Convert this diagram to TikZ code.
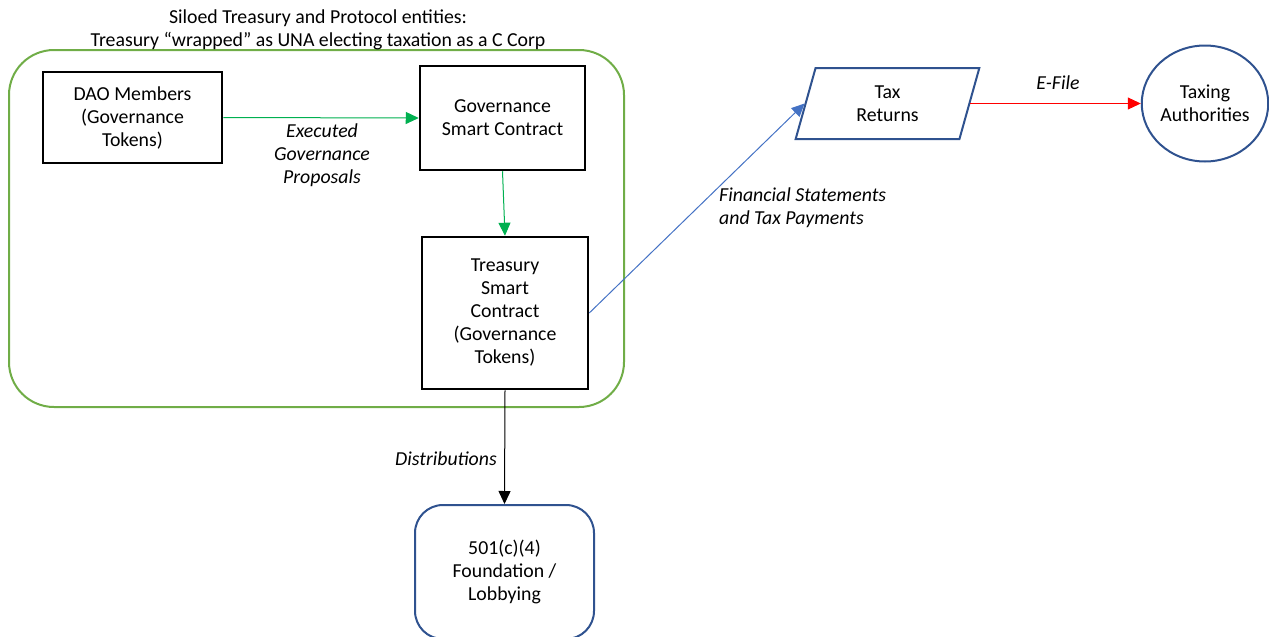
\documentclass[tikz,border=0pt]{standalone}
\usepackage{fontspec}
\setmainfont{Carlito}
\usetikzlibrary{arrows.meta,shapes.geometric}
\definecolor{silogreen}{RGB}{112,173,71}
\definecolor{arrowgreen}{RGB}{0,176,80}
\definecolor{darkblue}{RGB}{47,82,143}
\definecolor{midblue}{RGB}{68,114,196}
\definecolor{efred}{RGB}{255,0,0}
\tikzset{
  txt/.style={font=\fontsize{19.8}{23}\selectfont, align=center},
  lbl/.style={font=\fontsize{19.8}{23}\selectfont\itshape, inner sep=0pt},
  blackbox/.style={txt, draw=black, line width=2.5pt, rectangle, inner sep=0pt},
  bluebox/.style={txt, draw=darkblue, line width=2pt, rounded corners=28pt, inner sep=0pt},
  conn/.style={line width=1pt, -{Triangle[length=13pt,width=12pt]}},
}
\begin{document}
\begin{tikzpicture}[x=1pt,y=-1pt]
\useasboundingbox (0,0) rectangle (1269,637);
% container
\node[draw=silogreen, line width=2pt, rounded corners=45pt, minimum width=615pt, minimum height=357pt] (silo) at (316.5,228.5) {};
\node[txt, inner sep=0pt] (title) at (318,29.5) {Siloed Treasury and Protocol entities:\\Treasury “wrapped” as UNA electing taxation as a C Corp};
% boxes
\node[blackbox, minimum width=179pt, minimum height=91pt] (dao) at (132.5,117.5) {DAO Members\\(Governance\\Tokens)};
\node[blackbox, minimum width=165pt, minimum height=104pt] (gov) at (502.5,118) {Governance\\Smart Contract};
\node[blackbox, minimum width=166pt, minimum height=152pt] (treas) at (505,313) {Treasury\\Smart\\Contract\\(Governance\\Tokens)};
\node[bluebox, minimum width=179pt, minimum height=134pt] (found) at (504.5,572) {501(c)(4)\\Foundation /\\Lobbying};
\node[txt, draw=darkblue, line width=2pt, trapezium, trapezium stretches=true, trapezium left angle=76.5, trapezium right angle=103.5, minimum width=185pt, minimum height=71pt, inner sep=0pt] (tax) at (887.5,103.5) {Tax\\Returns};
\node[txt, draw=darkblue, line width=2pt, ellipse, minimum width=124pt, minimum height=116pt, inner sep=0pt] (auth) at (1205,103.5) {Taxing\\Authorities};
% connectors
\draw[conn, arrowgreen] (dao.east) -- (gov.west);
\draw[conn, arrowgreen] (gov.south) -- (treas.north);
\draw[conn, midblue] (treas.east) -- (tax.left side);
\draw[conn, efred] (tax.right side) -- (auth.west);
\draw[conn, black] (treas.south) -- (found.north);
% labels
\node[lbl, align=center] (l1) at (322,155) {Executed\\Governance\\Proposals};
\node[lbl, align=left, anchor=west] (l2) at (719,208) {Financial Statements\\and Tax Payments};
\node[lbl] (l3) at (1058,83) {E-File};
\node[lbl, anchor=east] (l4) at (497,459) {Distributions};
\end{tikzpicture}
\end{document}
